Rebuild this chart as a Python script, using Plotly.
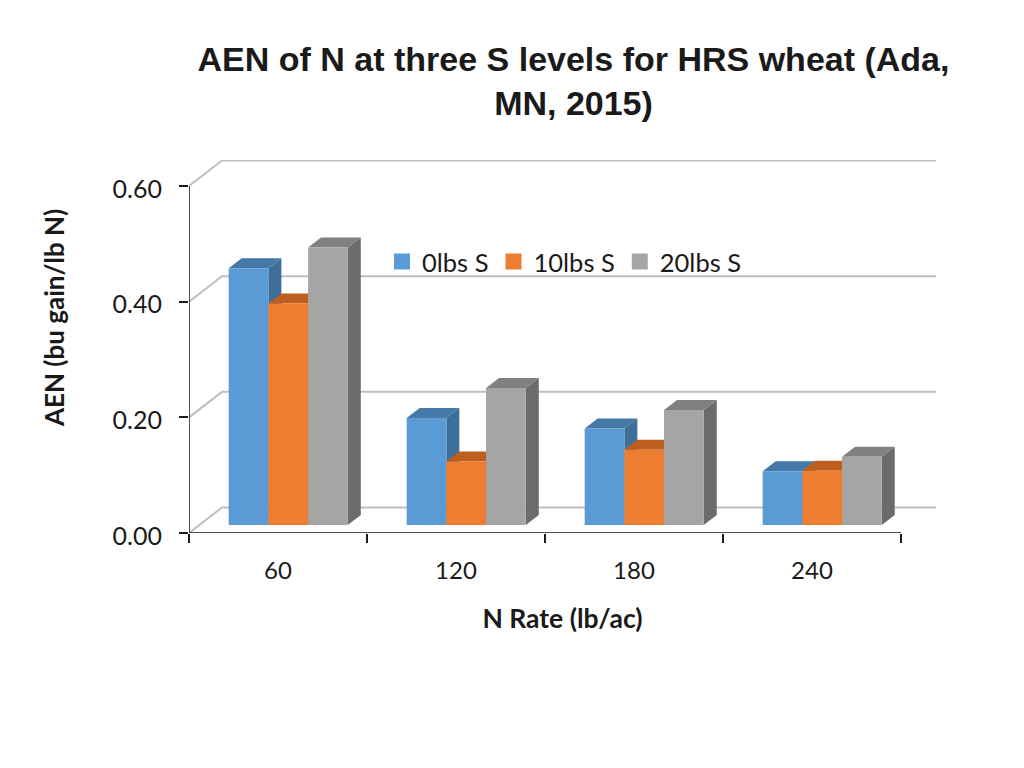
import plotly.graph_objects as go

n_rates = ["60", "120", "180", "240"]
series_names = ["0lbs S", "10lbs S", "20lbs S"]
s0_values = [0.444, 0.185, 0.167, 0.093]
s10_values = [0.383, 0.110, 0.130, 0.094]
s20_values = [0.480, 0.237, 0.199, 0.118]
y_ticks = [0, 0.2, 0.4, 0.6]
front_colors = ["#5B9BD5", "#ED7D31", "#A5A5A5"]
top_colors = ["#4479A8", "#BE5F1F", "#808080"]
side_colors = ["#3D6F9B", "#A9521A", "#6B6B6B"]

# axis scale, pixels per data unit
PX_X = 178.0
PX_Y = 578.3
X_MAX = 4.197
Y_MAX = 0.645
# depth of the walls and of the bars
WALL_DX = 33 / PX_X
WALL_DY = 25.5 / PX_Y
BAR_DX = 13 / PX_X
BAR_DY = 10 / PX_Y
BAR_BASE = 8 / PX_Y
BAR_W = 39.7 / PX_X
BAR_START = 39.7 / PX_X
GRID = "#BFBFBF"
AXIS = "#1A1A1A"
# the page body has an 8px margin
WIDTH = 1016
HEIGHT = 760


def polygons(parts):
    xs, ys = [], []
    for part in parts:
        xs += [p[0] for p in part] + [part[0][0], None]
        ys += [p[1] for p in part] + [part[0][1], None]
    return xs, ys


def face(parts, color):
    xs, ys = polygons(parts)
    return go.Scatter(x=xs, y=ys, mode="lines", fill="toself", fillcolor=color,
                      line=dict(width=0), hoverinfo="skip", showlegend=False)


def line(xs, ys, color, width):
    return go.Scatter(x=xs, y=ys, mode="lines", line=dict(color=color, width=width),
                      hoverinfo="skip", showlegend=False)


traces = []

# back wall lines and the diagonals at each tick
for t in y_ticks:
    traces.append(line([0, WALL_DX, X_MAX], [t, t + WALL_DY, t + WALL_DY], GRID, 2))

for s, values in enumerate([s0_values, s10_values, s20_values]):
    fronts, tops, sides = [], [], []
    for g, v in enumerate(values):
        x0 = g + BAR_START + s * BAR_W
        x1 = x0 + BAR_W
        y0 = BAR_BASE
        y1 = BAR_BASE + v
        fronts.append([(x0, y0), (x1, y0), (x1, y1), (x0, y1)])
        tops.append([(x0, y1), (x1, y1), (x1 + BAR_DX, y1 + BAR_DY), (x0 + BAR_DX, y1 + BAR_DY)])
        sides.append([(x1, y0), (x1 + BAR_DX, y0 + BAR_DY), (x1 + BAR_DX, y1 + BAR_DY), (x1, y1)])
    traces.append(face(sides, side_colors[s]))
    traces.append(face(tops, top_colors[s]))
    traces.append(face(fronts, front_colors[s]))

# axis lines stop short of the back wall
traces.append(line([0, 0], [0, 0.6], AXIS, 1.5))
traces.append(line([0, 4], [0, 0], AXIS, 1.5))

for s, name in enumerate(series_names):
    traces.append(go.Scatter(x=[None], y=[None], mode="markers", name=name,
                             marker=dict(symbol="square", size=17, color=front_colors[s])))

layout = go.Layout(
    width=WIDTH,
    height=HEIGHT,
    margin=dict(l=181, r=88, t=152, b=235),
    paper_bgcolor="white",
    plot_bgcolor="white",
    font=dict(family="Lato", size=24, color="#1A1A1A"),
    title=dict(
        text="<b>AEN of N at three S levels for HRS wheat (Ada,<br>MN, 2015)</b>",
        font=dict(family="Liberation Sans", size=34, color="#1A1A1A"),
        x=565.5 / WIDTH, xanchor="center", y=1 - 63 / HEIGHT, yanchor="middle",
    ),
    xaxis=dict(
        range=[0, X_MAX],
        tickvals=[i + 0.5 for i in range(len(n_rates))],
        ticktext=n_rates,
        ticks="",
        ticklabelstandoff=21,
        showgrid=False,
        showline=False,
        zeroline=False,
        minor=dict(tickvals=list(range(len(n_rates) + 1)), ticks="outside", ticklen=9,
                   tickcolor=AXIS, tickwidth=1.5, showgrid=False),
        title=dict(text="<b>N Rate (lb/ac)</b>", font=dict(size=26.5), standoff=26),
    ),
    yaxis=dict(
        range=[0, Y_MAX],
        tickvals=y_ticks,
        ticktext=["%.2f" % t for t in y_ticks],
        tickfont=dict(size=25),
        ticks="outside",
        ticklen=9,
        tickcolor=AXIS,
        tickwidth=1.5,
        ticklabelstandoff=12,
        ticklabelshift=3,
        showgrid=False,
        showline=False,
        zeroline=False,
    ),
    annotations=[dict(
        text="<b>AEN (bu gain/lb N)</b>",
        textangle=-90,
        font=dict(size=26),
        xref="paper", yref="paper",
        x=(54 - 189) / 747, y=(533 - 318) / 373,
        xanchor="center", yanchor="middle",
        showarrow=False,
    )],
    legend=dict(
        orientation="h",
        x=(382 - 189) / 747, xanchor="left",
        y=(533 - 262) / 373, yanchor="middle",
        bgcolor="rgba(0,0,0,0)",
        font=dict(size=25.5),
    ),
)

fig = go.Figure(data=traces, layout=layout)
fig.write_html("out.html")
